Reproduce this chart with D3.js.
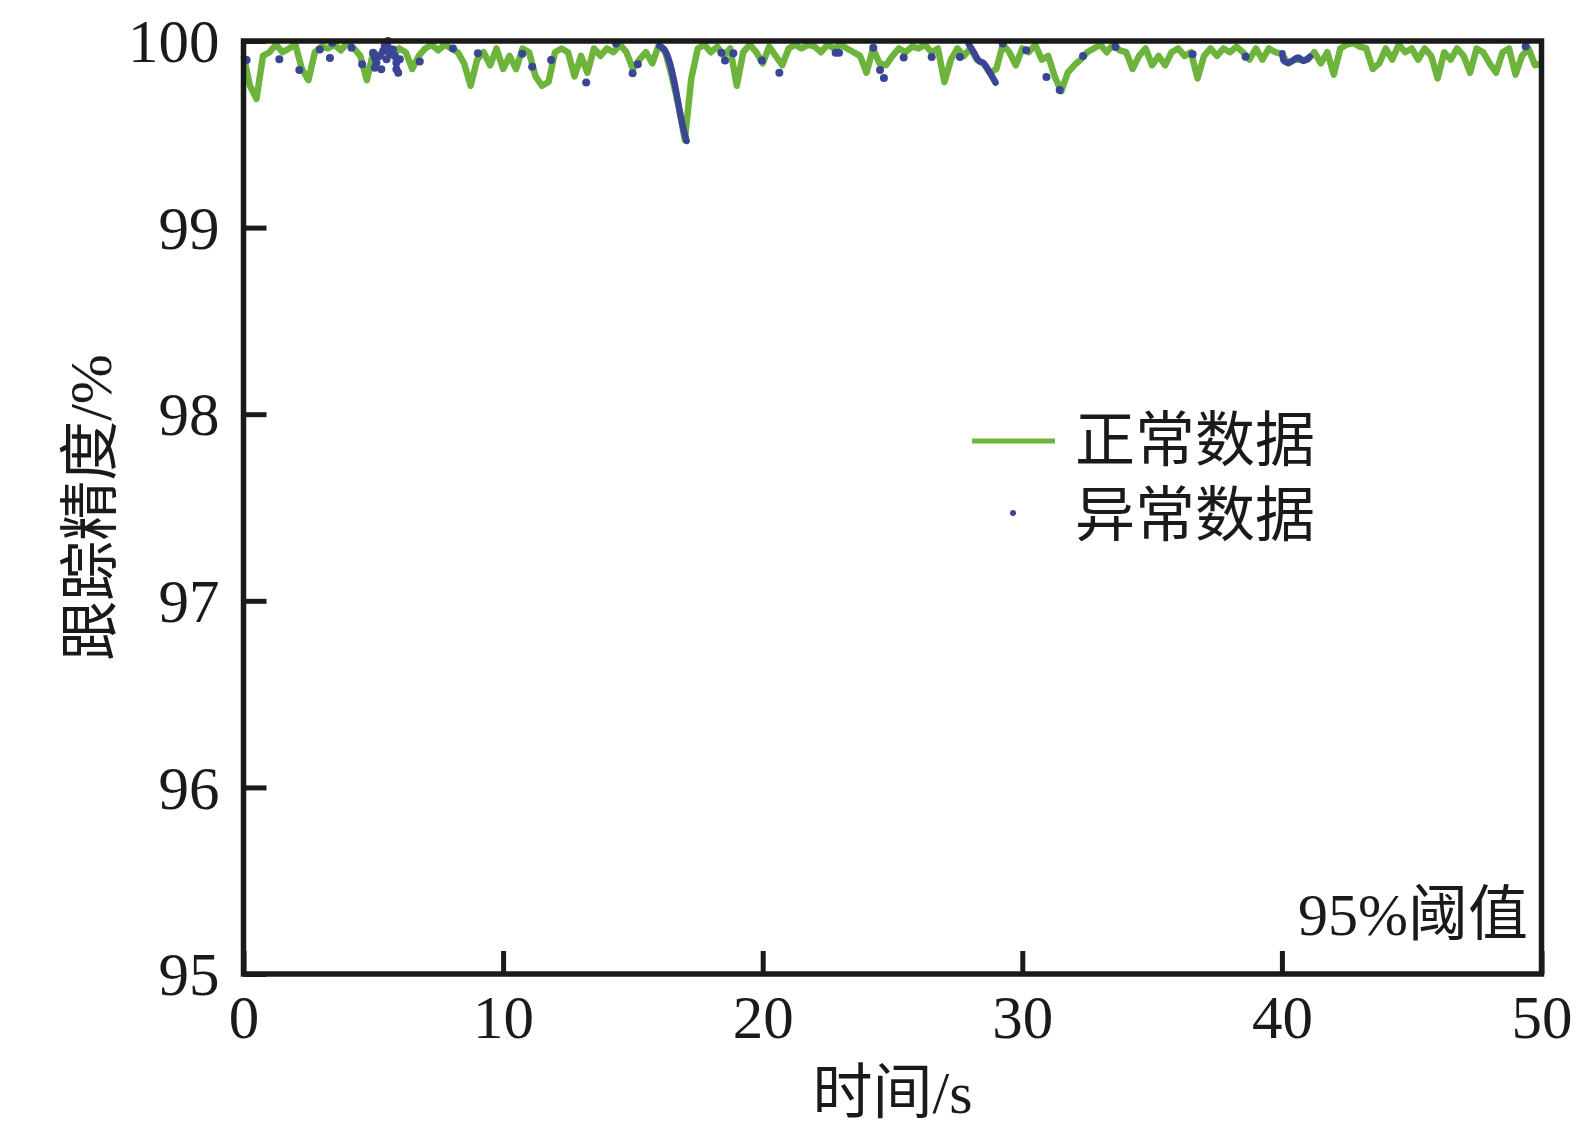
<!DOCTYPE html>
<html>
<head>
<meta charset="utf-8">
<script src="https://cdn.jsdelivr.net/npm/d3@7"></script>
<style>
  html, body { margin: 0; padding: 0; background: #fff; }
  svg { display: block; }
  text { font-family: "Liberation Serif", "Noto Sans CJK SC", serif; fill: #1a1a1a; }
</style>
</head>
<body>
<div id="app"></div>
<script>
// sample times of the normal series, s
const normalTime = [
  0, 0.25, 0.5, 0.75, 1, 1.25, 1.5, 1.75, 2, 2.25, 2.5, 2.75, 3, 3.25, 3.5, 3.75, 4, 4.25, 4.5, 4.75,
  5, 5.25, 5.5, 5.75, 6, 6.25, 6.5, 6.75, 7, 7.25, 7.5, 7.75, 8, 8.25, 8.5, 8.75, 9, 9.25, 9.5, 9.75,
  10, 10.25, 10.5, 10.75, 11, 11.25, 11.5, 11.75, 12, 12.25, 12.5, 12.75, 13, 13.25, 13.5, 13.75, 14, 14.25, 14.5, 14.75,
  15, 15.25, 15.5, 15.75, 16, 16.25, 16.5, 16.75, 17, 17.25, 17.5, 17.75, 18, 18.25, 18.5, 18.75, 19, 19.25, 19.5, 19.75,
  20, 20.25, 20.5, 20.75, 21, 21.25, 21.5, 21.75, 22, 22.25, 22.5, 22.75, 23, 23.25, 23.5, 23.75, 24, 24.25, 24.5, 24.75,
  25, 25.25, 25.5, 25.75, 26, 26.25, 26.5, 26.75, 27, 27.25, 27.5, 27.75, 28, 28.25, 28.5, 28.75, 29, 29.25, 29.5, 29.75,
  30, 30.25, 30.5, 30.75, 31, 31.25, 31.5, 31.75, 32, 32.25, 32.5, 32.75, 33, 33.25, 33.5, 33.75, 34, 34.25, 34.5, 34.75,
  35, 35.25, 35.5, 35.75, 36, 36.25, 36.5, 36.75, 37, 37.25, 37.5, 37.75, 38, 38.25, 38.5, 38.75, 39, 39.25, 39.5, 39.75,
  40, 40.25, 40.5, 40.75, 41, 41.25, 41.5, 41.75, 42, 42.25, 42.5, 42.75, 43, 43.25, 43.5, 43.75, 44, 44.25, 44.5, 44.75,
  45, 45.25, 45.5, 45.75, 46, 46.25, 46.5, 46.75, 47, 47.25, 47.5, 47.75, 48, 48.25, 48.5, 48.75, 49, 49.25, 49.5, 49.75,
  50
];

// tracking accuracy of the normal series, %
const normalValue = [
  99.92, 99.76, 99.69, 99.92, 99.94, 99.98, 99.94, 99.96, 99.98, 99.85, 99.79, 99.94, 99.97, 99.96, 99.98, 99.95, 99.99, 99.96, 99.92, 99.79,
  99.94, 99.92, 99.96, 99.92, 99.96, 99.94, 99.85, 99.92, 99.96, 99.98, 99.95, 99.98, 99.96, 99.94, 99.88, 99.76, 99.90, 99.94, 99.87, 99.96,
  99.85, 99.92, 99.85, 99.96, 99.94, 99.81, 99.76, 99.78, 99.94, 99.96, 99.94, 99.81, 99.92, 99.83, 99.96, 99.92, 99.96, 99.94, 99.98, 99.94,
  99.85, 99.90, 99.94, 99.88, 99.98, 99.94, 99.81, 99.66, 99.47, 99.80, 99.96, 99.98, 99.94, 99.97, 99.92, 99.96, 99.76, 99.94, 99.98, 99.94,
  99.88, 99.97, 99.92, 99.87, 99.96, 99.98, 99.96, 99.98, 99.97, 99.94, 99.98, 99.96, 99.98, 99.96, 99.94, 99.92, 99.83, 99.96, 99.88, 99.87,
  99.92, 99.96, 99.94, 99.97, 99.96, 99.98, 99.94, 99.96, 99.78, 99.90, 99.96, 99.92, 99.96, 99.90, 99.88, 99.83, 99.85, 99.98, 99.94, 99.87,
  99.96, 99.94, 99.98, 99.90, 99.92, 99.81, 99.73, 99.83, 99.87, 99.90, 99.94, 99.96, 99.98, 99.94, 99.98, 99.95, 99.94, 99.85, 99.92, 99.96,
  99.87, 99.92, 99.87, 99.94, 99.96, 99.92, 99.94, 99.80, 99.92, 99.96, 99.92, 99.96, 99.94, 99.97, 99.94, 99.90, 99.96, 99.90, 99.96, 99.94,
  99.93, 99.88, 99.90, 99.90, 99.90, 99.94, 99.88, 99.94, 99.82, 99.96, 99.98, 99.99, 99.97, 99.96, 99.85, 99.88, 99.96, 99.90, 99.98, 99.94,
  99.96, 99.90, 99.96, 99.92, 99.80, 99.94, 99.90, 99.96, 99.92, 99.83, 99.96, 99.94, 99.88, 99.83, 99.94, 99.96, 99.82, 99.92, 99.96, 99.87,
  99.88
];

// isolated abnormal samples
const pointTime = [
  0.12, 1.38, 2.15, 2.94, 3.33, 3.42, 4.16, 4.57,
  4.99, 5.06, 5.06, 5.12, 5.25, 5.31, 5.38, 5.44, 5.51, 5.57, 5.57, 5.63, 5.76, 5.83, 5.89, 5.89, 5.96, 6.02,
  6.79, 8.07, 9.03, 10.74, 11.12, 11.85,
  13.2, 14.35, 14.99, 15.19, 18.41, 18.55, 18.87, 19.97, 20.64, 22.81, 22.94, 24.26, 24.52, 24.67,
  25.43, 26.51, 27.6, 29.25, 30.15, 30.93, 31.44, 32.34, 33.59, 36.56, 38.6, 49.39
];
const pointValue = [
  99.898, 99.902, 99.845, 99.955, 99.909, 99.99, 99.964, 99.875,
  99.937, 99.911, 99.857, 99.884, 99.92, 99.848, 99.946, 99.973, 99.902, 99.964, 100.0, 99.929, 99.955, 99.92, 99.884, 99.848, 99.83, 99.902,
  99.89, 99.96, 99.934, 99.932, 99.862, 99.898,
  99.777, 99.987, 99.827, 99.875, 99.937, 99.896, 99.934, 99.896, 99.83, 99.937, 99.937, 99.964, 99.845, 99.802,
  99.911, 99.914, 99.914, 99.987, 99.95, 99.807, 99.737, 99.92, 99.968, 99.929, 99.916, 99.97
];

// abnormal stretches drawn as connected runs
const runA = { time: [16.02, 16.21, 16.4, 16.6, 16.79, 16.98, 17.07], value: [99.973, 99.955, 99.893, 99.777, 99.634, 99.509, 99.464] };
const runB = { time: [27.94, 28.14, 28.33, 28.52, 28.71, 28.97], value: [99.982, 99.937, 99.893, 99.88, 99.839, 99.777] };
const runC = { time: [40.02, 40.08, 40.25, 40.44, 40.63, 40.83, 41.08], value: [99.934, 99.893, 99.884, 99.898, 99.911, 99.893, 99.916] };

const xTicks = [0, 10, 20, 30, 40, 50];
const yTicks = [95, 96, 97, 98, 99, 100];

const legendLabels = ["正常数据", "异常数据"];
const xTitle = "时间/s";
const yTitle = "跟踪精度/%";
const note = "95%阈值";

const green = "#6cb43c";
const blue = "#3a4595";
const ink = "#1a1a1a";
const serif = '"Liberation Serif", "Noto Sans CJK SC", serif';

const chart = () => {
  const width = 1590;
  const height = 1138;
  const marginTop = 41;
  const marginRight = 48.5;
  const marginBottom = 164;
  const marginLeft = 243.5;
  const fontSize = 61;

  const x = d3.scaleLinear().domain([0, 50]).range([marginLeft, width - marginRight]);
  const y = d3.scaleLinear().domain([95, 100]).range([height - marginBottom, marginTop]);

  const svg = d3.create("svg").attr("width", width).attr("height", height).attr("font-family", serif);

  const line = d3.line().x((d) => x(d[0])).y((d) => y(d[1]));
  const smooth = d3.line().x((d) => x(d[0])).y((d) => y(d[1])).curve(d3.curveCatmullRom);

  // normal series
  svg
    .append("path")
    .datum(d3.zip(normalTime, normalValue))
    .attr("fill", "none")
    .attr("stroke", green)
    .attr("stroke-width", 6.5)
    .attr("stroke-linejoin", "round")
    .attr("d", line);

  // abnormal runs
  svg
    .selectAll(".run")
    .data([runA, runB, runC])
    .join("path")
    .attr("class", "run")
    .attr("fill", "none")
    .attr("stroke", blue)
    .attr("stroke-width", 6.5)
    .attr("stroke-linecap", "round")
    .attr("stroke-linejoin", "round")
    .attr("d", (r) => smooth(d3.zip(r.time, r.value)));

  // abnormal points
  svg
    .selectAll(".pt")
    .data(d3.zip(pointTime, pointValue))
    .join("circle")
    .attr("class", "pt")
    .attr("cx", (d) => x(d[0]))
    .attr("cy", (d) => y(d[1]))
    .attr("r", 4)
    .attr("fill", blue);

  // bottom axis
  const gx = svg
    .append("g")
    .attr("transform", `translate(0,${height - marginBottom})`)
    .call(d3.axisBottom(x).tickValues(xTicks).tickSize(-23).tickPadding(21).tickFormat(d3.format("d")))
    .attr("font-family", serif)
    .attr("font-size", fontSize);
  gx.select(".domain").remove();
  gx.selectAll(".tick line").attr("stroke", ink).attr("stroke-width", 5);
  gx.selectAll(".tick text").attr("fill", ink);

  // left axis
  const gy = svg
    .append("g")
    .attr("transform", `translate(${marginLeft},0)`)
    .call(d3.axisLeft(y).tickValues(yTicks).tickSize(-23).tickPadding(24).tickFormat(d3.format("d")))
    .attr("font-family", serif)
    .attr("font-size", fontSize);
  gy.select(".domain").remove();
  gy.selectAll(".tick line").attr("stroke", ink).attr("stroke-width", 5);
  gy.selectAll(".tick text").attr("fill", ink).attr("dy", "0.34em");

  // frame
  svg
    .append("rect")
    .attr("x", x(0))
    .attr("y", y(100))
    .attr("width", x(50) - x(0))
    .attr("height", y(95) - y(100))
    .attr("fill", "none")
    .attr("stroke", ink)
    .attr("stroke-width", 5.5);

  // titles
  svg
    .append("text")
    .text(xTitle)
    .attr("x", (x(0) + x(50)) / 2)
    .attr("y", 1113)
    .attr("text-anchor", "middle")
    .attr("font-size", 60);

  svg
    .append("text")
    .text(yTitle)
    .attr("transform", `translate(111,${(y(95) + y(100)) / 2}) rotate(-90)`)
    .attr("text-anchor", "middle")
    .attr("font-size", 60);

  svg
    .append("text")
    .text(note)
    .attr("x", 1528)
    .attr("y", 935)
    .attr("text-anchor", "end")
    .attr("font-size", 60);

  // legend
  const legend = svg.append("g").attr("transform", "translate(972,441)");
  legend
    .append("line")
    .attr("x1", 0)
    .attr("x2", 83)
    .attr("stroke", green)
    .attr("stroke-width", 5);
  legend
    .append("circle")
    .attr("cx", 41)
    .attr("cy", 72)
    .attr("r", 3)
    .attr("fill", blue);
  legend
    .selectAll(".lab")
    .data(legendLabels)
    .join("text")
    .attr("class", "lab")
    .text((d) => d)
    .attr("x", 103)
    .attr("y", (d, i) => 20 + i * 75)
    .attr("font-size", 60);

  return svg.node();
};

d3.select("#app").append(chart);
</script>
</body>
</html>
